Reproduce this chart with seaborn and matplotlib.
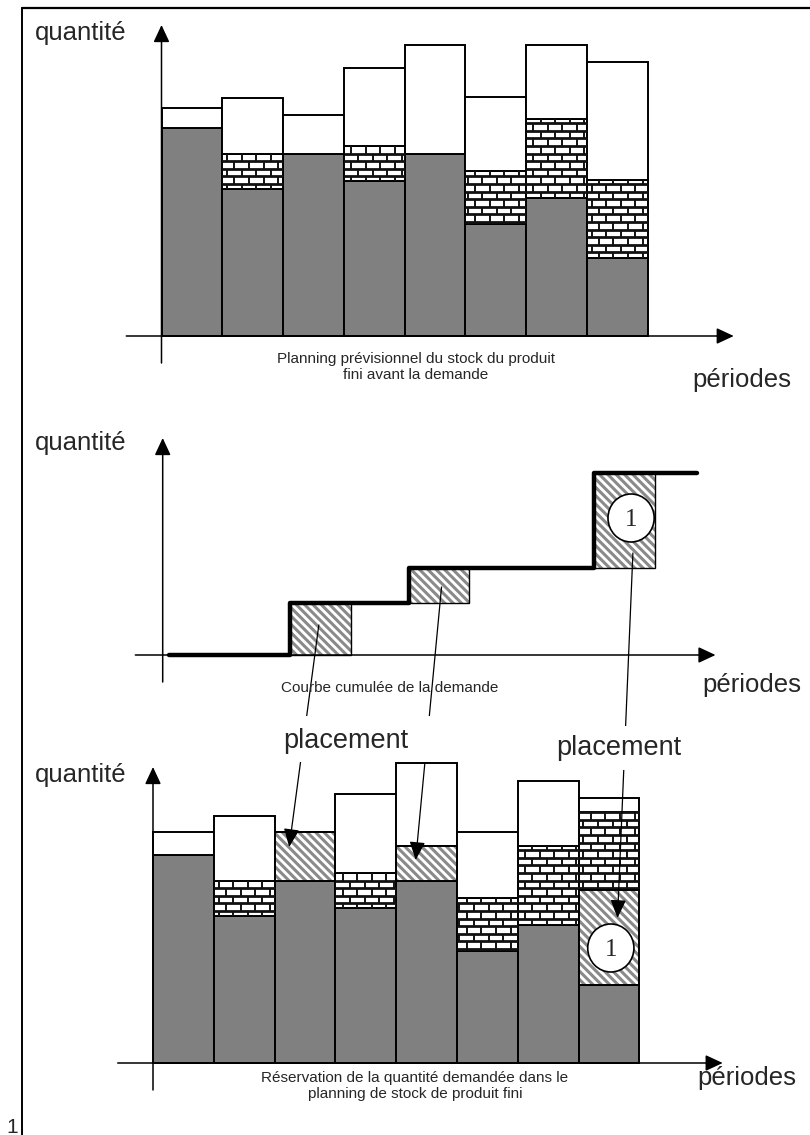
import numpy as np
import matplotlib
matplotlib.use("Agg")
import matplotlib.pyplot as plt
from matplotlib.patches import Ellipse, Rectangle, ConnectionPatch
import seaborn as sns

periods = ["P1", "P2", "P3", "P4", "P5", "P6", "P7", "P8"]

# planning prévisionnel (haut)
stock_libre = [208, 147, 182, 155, 182, 112, 138, 78]      # gris
stock_reserve = [0, 35, 0, 35, 0, 53, 79, 78]               # briques
capacite_libre = [20, 56, 39, 78, 109, 74, 74, 118]         # blanc

# courbe cumulée de la demande (milieu)
demande_debut = [1.6, 3.55, 6.6]
demande_qte = [52, 35, 95]
courbe_debut, courbe_fin = -0.4, 8.3

# réservation (bas)
qte_placee = [0, 0, 49, 0, 35, 0, 0, 95]
capacite_apres = [23, 65, 0, 79, 83, 66, 65, 14]

# flèches "placement" : départ (milieu) -> arrivée (bas)
lien_depart = [(2.07, 30), (4.09, 68), (7.24, 102)]
lien_arrivee = [(1.74, 216), (3.82, 203), (7.14, 145)]
cercle_milieu = (7.21, 137)
cercle_bas = (7.03, 115)

W, H = 810, 1135
GRIS = "#808080"
GRIS_HACHURE = "#8a8a8a"
BRIQUE_H = 7.6
BRIQUE_L = 0.24
BASE_BAS = 1063

sns.set_theme(style="white")
plt.rcParams["font.family"] = ["Liberation Sans", "DejaVu Sans"]
plt.rcParams["hatch.linewidth"] = 2.2

fig = plt.figure(figsize=(W / 100, H / 100), dpi=100)


def set_frame(ax, origin_px, baseline_px, px_per_period):
    ax.set_xlim(-0.5 - origin_px / px_per_period, -0.5 + (W - origin_px) / px_per_period)
    ax.set_ylim(baseline_px - H, baseline_px)
    ax.axis("off")


def axes_arrows(ax, x_from, x_to, y_to):
    style = dict(arrowstyle="-|>,head_length=0.75,head_width=0.35", mutation_scale=14,
                 lw=1.1, color="black", shrinkA=0, shrinkB=0)
    ax.annotate("", xy=(x_to, 0), xytext=(x_from, 0), arrowprops=style)
    ax.annotate("", xy=(-0.5, y_to), xytext=(-0.5, -27), arrowprops=style)


def draw_bricks(ax, bottoms, heights):
    for i, (y0, h) in enumerate(zip(bottoms, heights)):
        if h <= 0:
            continue
        x0, x1, y1 = i - 0.5, i + 0.5, y0 + h
        for k in range(int(np.floor(y0 / BRIQUE_H)), int(np.ceil(y1 / BRIQUE_H))):
            lo, hi = max(k * BRIQUE_H, y0), min((k + 1) * BRIQUE_H, y1)
            if k * BRIQUE_H > y0:
                ax.hlines(k * BRIQUE_H, x0, x1, color="#111111", lw=2.0, zorder=2)
            xs = -0.5 + 0.5 * BRIQUE_L * (k % 2) + BRIQUE_L * np.arange(45)
            xs = xs[(xs > x0 + 0.03) & (xs < x1 - 0.03)]
            ax.vlines(xs, lo, hi, color="#111111", lw=1.4, zorder=2)


def hatched(ax, x, heights, bottoms, width, **kw):
    ax.bar(x, heights, width=width, bottom=bottoms, align="edge", color="white",
           edgecolor=GRIS_HACHURE, linewidth=0, hatch="\\\\\\\\", zorder=1.5)
    ax.bar(x, heights, width=width, bottom=bottoms, align="edge", fill=False,
           edgecolor="black", zorder=2.5, **kw)


def stacked(ax, layers):
    bottom = np.zeros(len(periods))
    for heights, kind in layers:
        heights = np.asarray(heights, float)
        if kind == "hachure":
            keep = heights > 0
            hatched(ax, np.arange(len(periods))[keep] - 0.5, heights[keep], bottom[keep], 1.0,
                    linewidth=1.4)
        else:
            sns.barplot(x=periods, y=heights, bottom=bottom.copy(), width=1.0,
                        color=GRIS if kind == "gris" else "white", saturation=1,
                        edgecolor="black", linewidth=1.4, errorbar=None, ax=ax)
            if kind == "brique":
                draw_bricks(ax, bottom.copy(), heights)
        bottom += heights


# --- haut
ax_top = fig.add_axes([0, 0, 1, 1])
stacked(ax_top, [(stock_libre, "gris"), (stock_reserve, "brique"), (capacite_libre, "blanc")])
axes_arrows(ax_top, -1.08, 8.92, 311)
set_frame(ax_top, 161.5, 336, 60.75)

# --- milieu
ax_mid = fig.add_axes([0, 0, 1, 1])
niveaux = np.concatenate([[0], np.cumsum(demande_qte)])
hatched(ax_mid, demande_debut, demande_qte, niveaux[:-1], 1.0, linewidth=1.0)
step_x = [courbe_debut] + demande_debut + [courbe_fin]
step_y = list(niveaux) + [niveaux[-1]]
sns.lineplot(x=step_x, y=step_y, drawstyle="steps-post", color="black", lw=3.2,
             ax=ax_mid, zorder=3)
ax_mid.add_patch(Ellipse(cercle_milieu, 0.76, 48, facecolor="white", edgecolor="black",
                         lw=1.2, zorder=4))
ax_mid.text(*cercle_milieu, "1", family="Liberation Serif", fontsize=18, ha="center",
            va="center_baseline", zorder=5)
axes_arrows(ax_mid, -0.95, 8.6, 217)
set_frame(ax_mid, 162.7, 655, 60.75)

# --- bas
ax_bot = fig.add_axes([0, 0, 1, 1])
stacked(ax_bot, [(stock_libre, "gris"), (qte_placee, "hachure"), (stock_reserve, "brique"),
                 (capacite_apres, "blanc")])
ax_bot.add_patch(Ellipse(cercle_bas, 0.76, 48, facecolor="white", edgecolor="black",
                         lw=1.2, zorder=4))
ax_bot.text(*cercle_bas, "1", family="Liberation Serif", fontsize=18, ha="center",
            va="center_baseline", zorder=5)
axes_arrows(ax_bot, -1.08, 8.87, BASE_BAS - 767)
set_frame(ax_bot, 153, BASE_BAS, 60.8)

for a, b in zip(lien_depart, lien_arrivee):
    fig.add_artist(ConnectionPatch(xyA=a, coordsA=ax_mid.transData, xyB=b,
                                   coordsB=ax_bot.transData,
                                   arrowstyle="-|>,head_length=0.7,head_width=0.3",
                                   mutation_scale=16, lw=0.9, color="black",
                                   shrinkA=0, shrinkB=0, zorder=1))

# --- textes et cadre
ov = fig.add_axes([0, 0, 1, 1], zorder=3)
ov.set_xlim(0, W)
ov.set_ylim(H, 0)
ov.axis("off")
ov.plot([22, 22], [8, H], color="black", lw=1.4)
ov.plot([22, W], [8, 8], color="black", lw=1.6)

big = 18.5
for y in (40, 450, 782):
    ov.text(35, y, "quantité", fontsize=big, ha="left", va="baseline")
for x, y in ((692, 387), (702, 692), (697, BASE_BAS + 22)):
    ov.text(x, y, "périodes", fontsize=big, ha="left", va="baseline")

ov.text(416, 367, "Planning prévisionnel du stock du produit\nfini avant la demande",
        fontsize=11, ha="center", va="center", linespacing=1.15)
ov.text(390, 688, "Courbe cumulée de la demande", fontsize=11, ha="center", va="center")
ov.text(415, BASE_BAS + 23, "Réservation de la quantité demandée dans le\nplanning de stock de produit fini",
        fontsize=11, ha="center", va="center", linespacing=1.15)

ov.add_patch(Rectangle((262, 716), 186, 46, facecolor="white", edgecolor="none"))
ov.add_patch(Rectangle((548, 726), 145, 44, facecolor="white", edgecolor="none"))
ov.text(346, 741, "placement", fontsize=19.5, ha="center", va="center")
ov.text(619, 748, "placement", fontsize=19.5, ha="center", va="center")
ov.text(6, 1133, "1", fontsize=15, ha="left", va="baseline")

fig.savefig("out.png", dpi=100)
